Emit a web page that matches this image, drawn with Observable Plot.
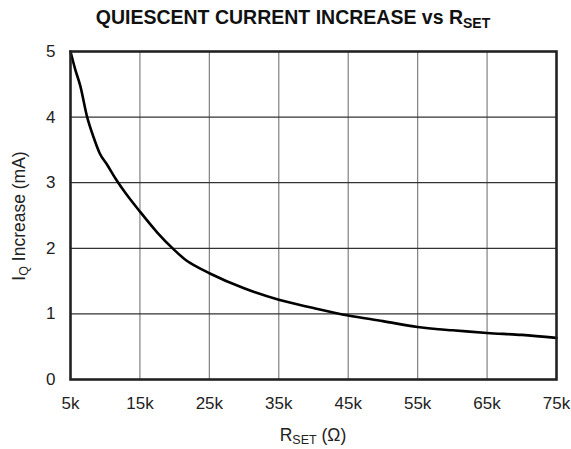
<!DOCTYPE html>
<html>
<head>
<meta charset="utf-8">
<script src="https://cdn.jsdelivr.net/npm/d3@7"></script>
<script src="https://cdn.jsdelivr.net/npm/@observablehq/plot@0.6"></script>
<style>
  html, body { margin: 0; padding: 0; background: #fff; }
  #chart { width: 571px; height: 449px; }
  svg { font-family: "Liberation Sans", Arial, sans-serif; }
</style>
</head>
<body>
<div id="chart"></div>
<script>
// Data (R_SET in kΩ, I_Q increase in mA)
const rset = [5, 5.7, 6.4, 7.4, 8.3, 9.2, 10.3, 11.5, 13, 15, 17.5, 19.9, 21.5, 23.7, 25, 30, 35, 40, 45, 50, 55, 58, 60, 65, 70, 75];
const iq   = [5.0, 4.72, 4.48, 4.0, 3.7, 3.45, 3.27, 3.06, 2.83, 2.56, 2.24, 1.98, 1.83, 1.69, 1.62, 1.39, 1.215, 1.09, 0.976, 0.89, 0.80, 0.765, 0.75, 0.71, 0.68, 0.635];
const xTicks = [5, 15, 25, 35, 45, 55, 65, 75];
const xTickLabels = ["5k", "15k", "25k", "35k", "45k", "55k", "65k", "75k"];
const yTicks = [0, 1, 2, 3, 4, 5];

const data = rset.map((r, i) => ({r, i: iq[i]}));

const W = 571, H = 449;
const mL = 70, mR = 15, mT = 51, mB = 70;

const plot = Plot.plot({
  width: W,
  height: H,
  marginLeft: mL,
  marginRight: mR,
  marginTop: mT,
  marginBottom: mB,
  style: {fontFamily: "Liberation Sans, Arial, sans-serif", fontSize: "16px", color: "#222", background: "#fff"},
  x: {domain: [5, 75], label: null},
  y: {domain: [0, 5], label: null},
  marks: [
    Plot.ruleX(xTicks.slice(1, -1), {stroke: "#808080", strokeWidth: 1.2}),
    Plot.ruleY(yTicks.slice(1, -1), {stroke: "#333", strokeWidth: 1.2}),
    Plot.axisX(xTicks, {tickSize: 0, tickPadding: 17, tickFormat: (d, i) => xTickLabels[i], fontSize: 17, fill: "#222"}),
    Plot.axisY(yTicks, {tickSize: 0, tickPadding: 15, tickFormat: d => String(d), fontSize: 17, fill: "#222"}),
    Plot.line(data, {x: "r", y: "i", curve: "monotone-x", stroke: "#000", strokeWidth: 2.6}),
    Plot.frame({stroke: "#222", strokeWidth: 2.6})
  ]
});

document.getElementById("chart").appendChild(plot);

const svg = d3.select(plot);
const font = "Liberation Sans, Arial, sans-serif";

// Title
const t = svg.append("text")
  .attr("x", 293).attr("y", 24)
  .attr("text-anchor", "middle")
  .attr("font-family", font).attr("font-weight", "bold").attr("font-size", 19.5).attr("fill", "#111");
t.append("tspan").text("QUIESCENT CURRENT INCREASE vs R");
t.append("tspan").attr("dy", 4).attr("font-size", 14).text("SET");

// X label
const xl = svg.append("text")
  .attr("x", 313).attr("y", 441)
  .attr("text-anchor", "middle")
  .attr("font-family", font).attr("font-size", 17.5).attr("fill", "#222");
xl.append("tspan").text("R");
xl.append("tspan").attr("dy", 3).attr("font-size", 12.5).text("SET");
xl.append("tspan").attr("dy", -3).text(" (Ω)");

// Y label
const yl = svg.append("text")
  .attr("transform", "translate(25,216) rotate(-90)")
  .attr("text-anchor", "middle")
  .attr("font-family", font).attr("font-size", 17.5).attr("fill", "#222");
yl.append("tspan").text("I");
yl.append("tspan").attr("dy", 3).attr("font-size", 12.5).text("Q");
yl.append("tspan").attr("dy", -3).text(" Increase (mA)");
</script>
</body>
</html>
